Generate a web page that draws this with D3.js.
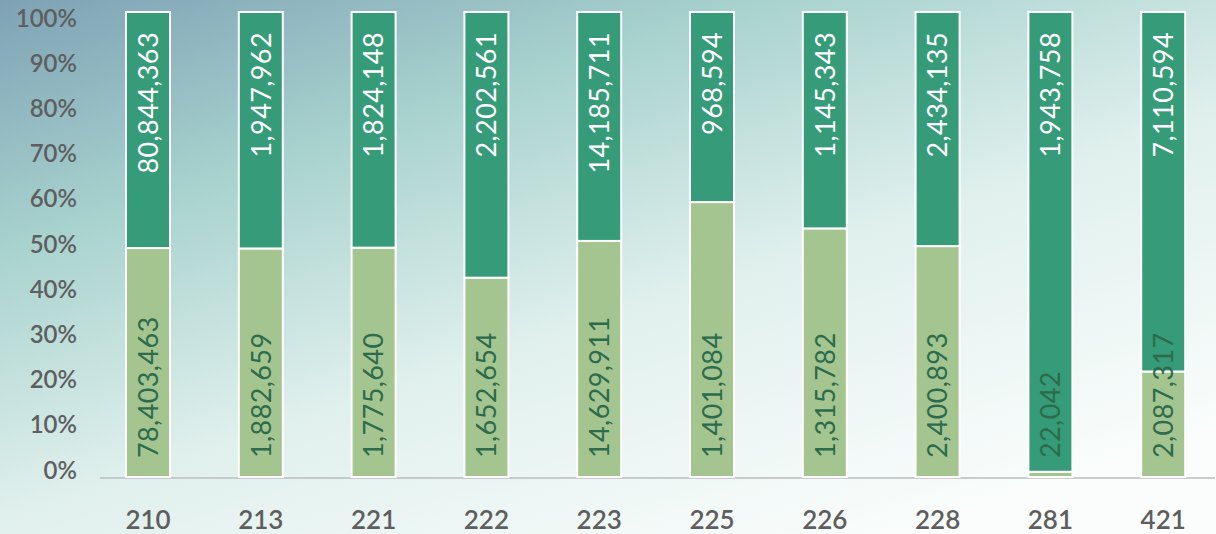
<!DOCTYPE html>
<html>
<head>
<meta charset="utf-8">
<script src="https://cdn.jsdelivr.net/npm/d3@7"></script>
<style>
  body { margin: 0; }
  svg { display: block; }
</style>
</head>
<body>
<div id="container"></div>
<script>
// chart data
var categories = ["210", "213", "221", "222", "223", "225", "226", "228", "281", "421"];
var lightValues = [78403463, 1882659, 1775640, 1652654, 14629911, 1401084, 1315782, 2400893, 22042, 2087317];
var darkValues = [80844363, 1947962, 1824148, 2202561, 14185711, 968594, 1145343, 2434135, 1943758, 7110594];
var yTicks = [0, 0.1, 0.2, 0.3, 0.4, 0.5, 0.6, 0.7, 0.8, 0.9, 1];

// sizes
var width = 1216;
var height = 534;
var plotTop = 12;
var plotBottom = 477;

var lightColor = "#a4c590";
var darkColor = "#369b78";

var svg = d3.select("#container")
            .append("svg")
            .attr("width", width)
            .attr("height", height);

// background gradient
var defs = svg.append("defs");
var grad = defs.append("linearGradient")
               .attr("id", "bg")
               .attr("x1", "0").attr("y1", "0")
               .attr("x2", "0.75").attr("y2", "1");
grad.append("stop").attr("offset", "0").attr("stop-color", "#7ea2b5");
grad.append("stop").attr("offset", "0.3").attr("stop-color", "#a8d2ce");
grad.append("stop").attr("offset", "0.62").attr("stop-color", "#e0f0ed");
grad.append("stop").attr("offset", "1").attr("stop-color", "#fafdfc");

svg.append("rect")
   .attr("width", width)
   .attr("height", height)
   .attr("fill", "url(#bg)");

// scales
var x = d3.scaleBand()
          .domain(categories)
          .range([91.6, 1219.6])
          .paddingInner(0.61)
          .paddingOuter(0.305);

var y = d3.scaleLinear()
          .domain([0, 1])
          .range([plotBottom, plotTop]);

// label scale for y tick text
var yLabel = d3.scaleLinear()
               .domain([0, 1])
               .range([470, 18]);

// build shares
var rows = categories.map(function(c, i) {
    var tot = lightValues[i] + darkValues[i];
    return {
        cat: c,
        light: lightValues[i],
        dark: darkValues[i],
        share: lightValues[i] / tot
    };
});

// y axis labels
svg.append("g")
   .selectAll("text")
   .data(yTicks)
   .enter()
   .append("text")
   .attr("x", 77)
   .attr("y", function(d) { return yLabel(d); })
   .attr("dy", "0.36em")
   .attr("text-anchor", "end")
   .attr("font-family", "Lato")
   .attr("font-weight", 600)
   .attr("font-size", 24)
   .attr("fill", "#5e5e5e")
   .text(d3.format(".0%"));

// baseline
svg.append("line")
   .attr("x1", 100)
   .attr("x2", 1215)
   .attr("y1", plotBottom + 1)
   .attr("y2", plotBottom + 1)
   .attr("stroke", "#b9bdbd")
   .attr("stroke-width", 1.5);

// bars
var bars = svg.append("g")
              .selectAll("g")
              .data(rows)
              .enter()
              .append("g");

bars.append("rect")
    .attr("x", function(d) { return x(d.cat); })
    .attr("y", function(d) { return y(d.share); })
    .attr("width", x.bandwidth())
    .attr("height", function(d) { return plotBottom - y(d.share); })
    .attr("fill", lightColor)
    .attr("stroke", "#ffffff")
    .attr("stroke-width", 2);

bars.append("rect")
    .attr("x", function(d) { return x(d.cat); })
    .attr("y", y(1))
    .attr("width", x.bandwidth())
    .attr("height", function(d) { return y(d.share) - y(1); })
    .attr("fill", darkColor)
    .attr("stroke", "#ffffff")
    .attr("stroke-width", 2);

// bar labels
var fmt = d3.format(",");

bars.append("text")
    .attr("transform", function(d) {
        return "translate(" + (x(d.cat) + x.bandwidth() / 2) + "," + (plotBottom - 19) + ") rotate(-90)";
    })
    .attr("dy", "0.36em")
    .attr("text-anchor", "start")
    .attr("font-family", "Lato")
    .attr("font-size", 27)
    .attr("letter-spacing", 0.4)
    .attr("fill", "#2c6b4c")
    .text(function(d) { return fmt(d.light); });

bars.append("text")
    .attr("transform", function(d) {
        return "translate(" + (x(d.cat) + x.bandwidth() / 2) + "," + (y(1) + 20) + ") rotate(-90)";
    })
    .attr("dy", "0.36em")
    .attr("text-anchor", "end")
    .attr("font-family", "Lato")
    .attr("font-size", 27)
    .attr("letter-spacing", 0.4)
    .attr("fill", "#ffffff")
    .text(function(d) { return fmt(d.dark); });

// x labels
svg.append("g")
   .selectAll("text")
   .data(categories)
   .enter()
   .append("text")
   .attr("x", function(d) { return x(d) + x.bandwidth() / 2; })
   .attr("y", 520)
   .attr("dy", "0.36em")
   .attr("text-anchor", "middle")
   .attr("font-family", "Lato")
   .attr("font-weight", 600)
   .attr("font-size", 26)
   .attr("fill", "#5e5e5e")
   .text(function(d) { return d; });
</script>
</body>
</html>
